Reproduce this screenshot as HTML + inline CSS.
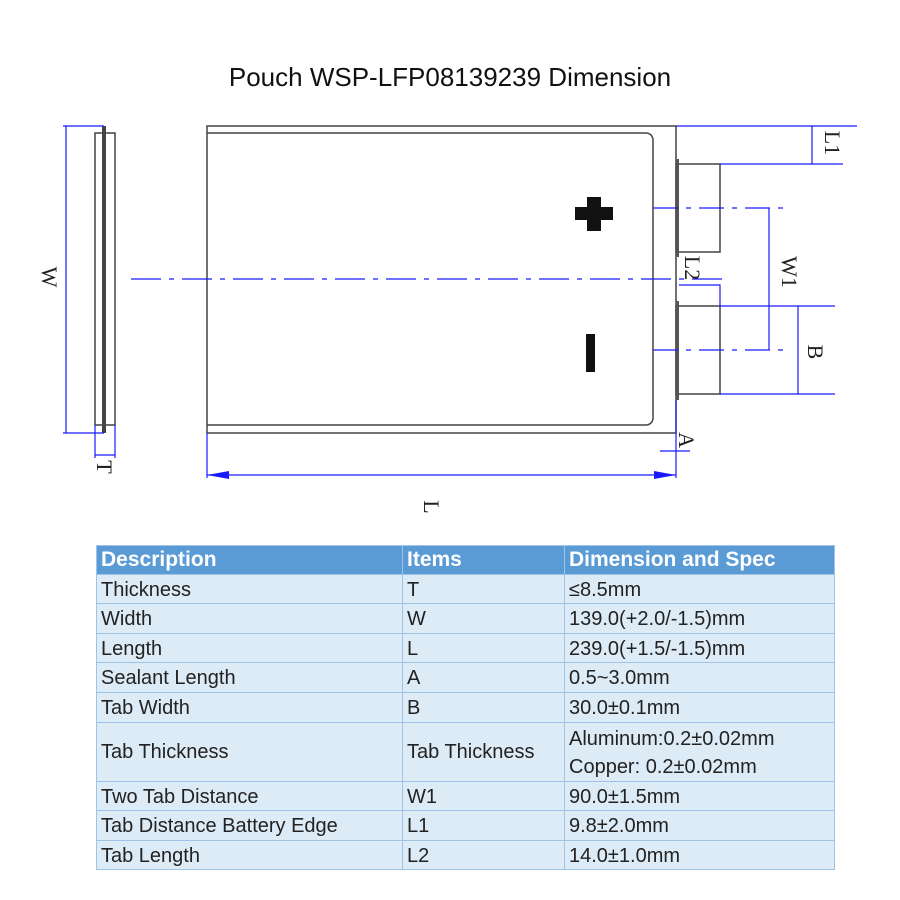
<!DOCTYPE html>
<html><head><meta charset="utf-8"><style>
body{margin:0;width:900px;height:900px;background:#fff;position:relative;overflow:hidden;font-family:"Liberation Sans",sans-serif}
.t{position:absolute;left:0;width:900px;top:62px;text-align:center;font-size:26px;color:#111}
table{position:absolute;left:96px;top:545px;border-collapse:collapse;font-size:20px;color:#222}
td{border:1px solid #9dc3e6;background:#ddebf7;padding:2px 4px 0 4px;height:26.6px;line-height:26.6px;white-space:nowrap}
th{background:#5b9bd5;color:#fff;text-align:left;font-weight:bold;padding:1px 4px 0 4px;height:26.6px;line-height:26.6px;border:1px solid #9dc3e6;font-size:21px}
</style></head><body>
<div class="t">Pouch WSP-LFP08139239 Dimension</div>
<svg width="900" height="540" style="position:absolute;left:0;top:0" font-family="Liberation Serif,serif" font-size="22">
<g fill="none" stroke="#444" stroke-width="1.5">
<rect x="207" y="126" width="469" height="307"/>
<path d="M207 133 H646 a7 7 0 0 1 7 7 V418 a7 7 0 0 1 -7 7 H207"/>
<rect x="95" y="133" width="20" height="292"/>
<rect x="676" y="164" width="44" height="88"/>
<rect x="676" y="306" width="44" height="88"/>
</g>
<rect x="102" y="126" width="4" height="307" fill="#444"/>
<rect x="676" y="159" width="3" height="98" fill="#555"/>
<rect x="676" y="301" width="3" height="99" fill="#555"/>
<rect x="587" y="197" width="14" height="34" fill="#111"/>
<rect x="575" y="207" width="38" height="13" fill="#111"/>
<rect x="586" y="334" width="9" height="38" fill="#111"/>
<g stroke="#1a1aff" stroke-width="1.2" fill="none">
<path d="M131 279 H728" stroke-dasharray="30 8 5 8"/>
<path d="M653 208 H786 M653 350 H786" stroke-dasharray="25 8 5 8"/>
<path d="M66 126 V433 M63 126 H104 M63 433 H104"/>
<path d="M95 425 V458 M115 425 V458 M95 455 H115"/>
<path d="M207 433 V478 M207 475 H676 M676 400 V478 M660 451 H690"/>
<path d="M676 126 H857 M720 164 H843 M812 126 V164"/>
<path d="M769 208 V350"/>
<path d="M720 306 H835 M720 394 H835 M798 306 V394"/>
<path d="M679 285 H720 V306"/>
</g>
<path d="M207 475 l22 -4 v8z M676 475 l-22 -4 v8z" fill="#1a1aff"/>
<g fill="#222">
<text transform="translate(42,277) rotate(90)" text-anchor="middle">W</text>
<text transform="translate(97,467) rotate(90)" text-anchor="middle">T</text>
<text transform="translate(424,507) rotate(90)" text-anchor="middle">L</text>
<text transform="translate(825,143) rotate(90)" text-anchor="middle">L1</text>
<text transform="translate(782,272) rotate(90)" text-anchor="middle">W1</text>
<text transform="translate(685,268) rotate(90)" text-anchor="middle">L2</text>
<text transform="translate(808,352) rotate(90)" text-anchor="middle">B</text>
<text transform="translate(679,440) rotate(90)" text-anchor="middle">A</text>
</g>
</svg>
<table>
<colgroup><col style="width:306px"><col style="width:162px"><col style="width:270px"></colgroup>
<tr><th>Description</th><th>Items</th><th>Dimension and Spec</th></tr>
<tr><td>Thickness</td><td>T</td><td>≤8.5mm</td></tr>
<tr><td>Width</td><td>W</td><td>139.0(+2.0/-1.5)mm</td></tr>
<tr><td>Length</td><td>L</td><td>239.0(+1.5/-1.5)mm</td></tr>
<tr><td>Sealant Length</td><td>A</td><td>0.5~3.0mm</td></tr>
<tr><td>Tab Width</td><td>B</td><td>30.0±0.1mm</td></tr>
<tr><td style="height:56px">Tab Thickness</td><td>Tab Thickness</td><td style="line-height:28px">Aluminum:0.2±0.02mm<br>Copper: 0.2±0.02mm</td></tr>
<tr><td>Two Tab Distance</td><td>W1</td><td>90.0±1.5mm</td></tr>
<tr><td>Tab Distance Battery Edge</td><td>L1</td><td>9.8±2.0mm</td></tr>
<tr><td>Tab Length</td><td>L2</td><td>14.0±1.0mm</td></tr>
</table>
</body></html>
